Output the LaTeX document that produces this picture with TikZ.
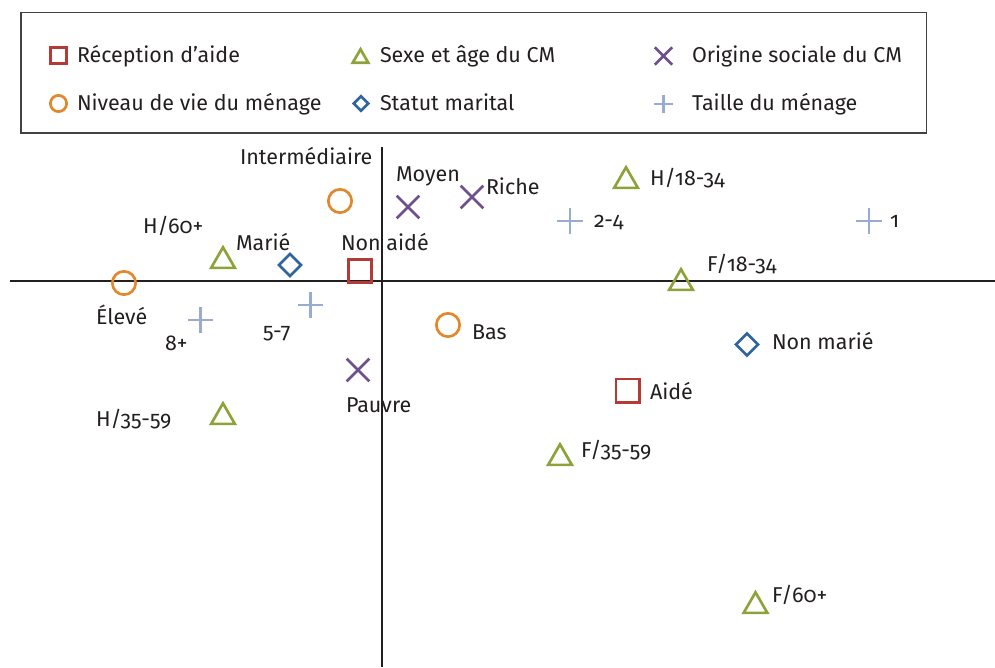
\documentclass[tikz,border=0pt]{standalone}
\usepackage{fontspec}
\setmainfont[Numbers=OldStyle]{Fira Sans}
\usetikzlibrary{shapes.geometric,shapes.misc}
\definecolor{cred}{RGB}{180,58,56}
\definecolor{cgreen}{RGB}{141,163,58}
\definecolor{corange}{RGB}{226,135,43}
\definecolor{cblue}{RGB}{46,100,160}
\definecolor{cpurple}{RGB}{110,80,140}
\definecolor{cplus}{RGB}{152,172,208}
\definecolor{txt}{RGB}{35,31,32}
\begin{document}
\begin{tikzpicture}[x=0.75pt,y=-0.75pt,
  font=\fontsize{16.1}{20}\selectfont, text=txt,
  mk/.style={inner sep=0pt, outer sep=0pt, line width=2pt, draw},
  sq/.style={mk, rectangle, draw=cred, minimum size=17.5pt},
  ci/.style={mk, circle, draw=corange, minimum size=17.5pt},
  tri/.style={mk, regular polygon, regular polygon sides=3, draw=cgreen, minimum size=20.5pt},
  dia/.style={mk, diamond, aspect=1, draw=cblue, minimum size=16.5pt},
  xx/.style={mk, cross out, draw=cpurple, minimum size=17pt},
  pl/.style={mk, cross out, rotate=45, draw=cplus, minimum size=13.3pt},
  lsq/.style={sq, minimum size=12.2pt},
  lci/.style={ci, minimum size=12.2pt},
  ltri/.style={tri, minimum size=13.5pt},
  ldia/.style={dia, minimum size=10.8pt},
  lxx/.style={xx, minimum size=13pt},
  lpl/.style={pl, minimum size=10pt},
  lab/.style={anchor=base west, inner sep=0pt, outer sep=0pt},
  axisline/.style={line width=1.4pt, draw=txt},
  legendbox/.style={line width=1.1pt, draw=txt!85}
]
\useasboundingbox (0,0) rectangle (995,667);

% legend
\draw[legendbox] (21,12.5) rectangle (926.5,133);
\node[lsq]  (l1) at (58.5,55.5) {};
\node[lab]  (t1) at (77,63) {Réception d’aide};
\node[lci]  (l2) at (58.5,103.5) {};
\node[lab]  (t2) at (77,110) {Niveau de vie du ménage};
\node[ltri] (l3) at (360.5,58.3) {};
\node[lab]  (t3) at (380,63) {Sexe et âge du CM};
\node[ldia] (l4) at (361,103.5) {};
\node[lab]  (t4) at (380,110) {Statut marital};
\node[lxx]  (l5) at (663.5,56) {};
\node[lab]  (t5) at (692,63) {Origine sociale du CM};
\node[lpl]  (l6) at (663.5,104) {};
\node[lab]  (t6) at (692,110) {Taille du ménage};

% axes
\coordinate (hx1) at (10,281);
\coordinate (hx2) at (995,281);
\coordinate (vy1) at (382,147);
\coordinate (vy2) at (382,667);
\draw[axisline] (hx1) -- (hx2);
\draw[axisline] (vy1) -- (vy2);

% markers
\node[ci]  (inter)  at (340,201) {};
\node[ci]  (eleve)  at (124,283) {};
\node[ci]  (bas)    at (448,325) {};
\node[sq]  (nonaide) at (360,271) {};
\node[sq]  (aide)   at (627.5,390.5) {};
\node[dia] (marie)  at (290,265) {};
\node[dia] (nonmarie) at (747,344.5) {};
\node[tri] (h60)    at (223,261) {};
\node[tri] (h3559)  at (223,417) {};
\node[tri] (h1834)  at (626,181) {};
\node[tri] (f1834)  at (681,283) {};
\node[tri] (f3559)  at (560,458) {};
\node[tri] (f60)    at (755.5,606) {};
\node[xx]  (moyen)  at (408,207) {};
\node[xx]  (riche)  at (472,197) {};
\node[xx]  (pauvre) at (358,370) {};
\node[pl]  (p8)     at (200.5,320) {};
\node[pl]  (p57)    at (310.5,305) {};
\node[pl]  (p24)    at (570,221) {};
\node[pl]  (p1)     at (869,221) {};

% labels
\node[lab] (tinter) at (240,164) {Intermédiaire};
\node[lab] (televe) at (96,324) {Élevé};
\node[lab] (tbas)   at (472,339) {Bas};
\node[lab] (tnonaide) at (341,250) {Non aidé};
\node[lab] (taide)  at (650,399) {Aidé};
\node[lab] (tmarie) at (236,250) {Marié};
\node[lab] (tnonmarie) at (772,349) {Non marié};
\node[lab] (th60)   at (143,233) {H/60+};
\node[lab] (th3559) at (96,426) {H/35-59};
\node[lab] (th1834) at (650,185) {H/18-34};
\node[lab] (tf1834) at (707,271) {F/18-34};
\node[lab] (tf3559) at (581,457) {F/35-59};
\node[lab] (tf60)   at (772,602) {F/60+};
\node[lab] (tmoyen) at (396,181) {Moyen};
\node[lab] (triche) at (486,194) {Riche};
\node[lab] (tpauvre) at (346,412) {Pauvre};
\node[lab] (tp8)    at (165,350) {8+};
\node[lab] (tp57)   at (263,338) {5-7};
\node[lab] (tp24)   at (594,227) {2-4};
\node[lab] (tp1)    at (890,227) {1};
\end{tikzpicture}
\end{document}
